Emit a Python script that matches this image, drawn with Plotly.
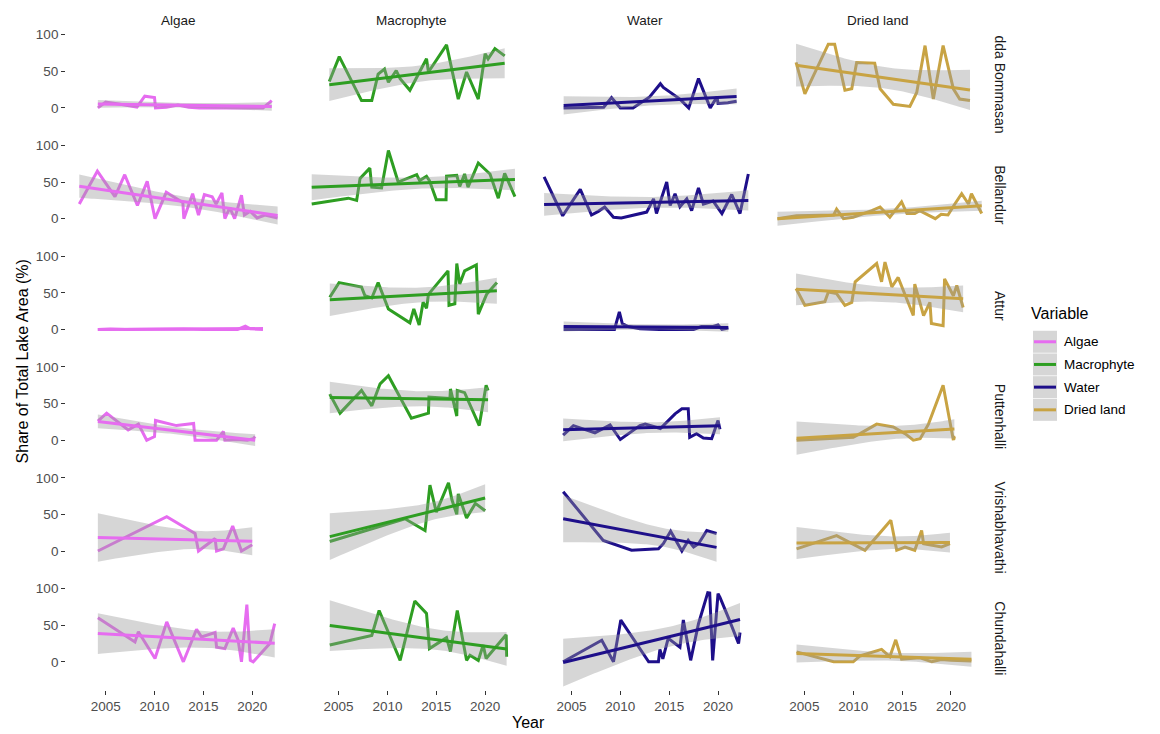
import numpy as np
import plotly.graph_objects as go

# ---- facet labels -------------------------------------------------------
lakes = ["dda Bommasan", "Bellandur", "Attur", "Puttenhalli", "Vrishabhavathi", "Chundahalli"]
variables = ["Algae", "Macrophyte", "Water", "Dried land"]
colors = ["#E66CF0", "#2E9E22", "#1E0F8A", "#C8A343"]
x_ticks = [2005, 2010, 2015, 2020]
y_ticks = [0, 50, 100]

# ---- Dodda Bommasandra ---------------------------------------------------
dodda_algae_year = [2004.2, 2005.0, 2006.5, 2008.2, 2009.0, 2010.0, 2010.1, 2011.2, 2012.4, 2013.5, 2014.6, 2016.0, 2018.0, 2019.5, 2021.1, 2022.0]
dodda_algae_pct = [0, 8, 5, 1, 16, 14, 0, 1, 4, 1, 0, 0, 0, 0, 0, 10]
dodda_macro_year = [2004.05, 2005.07, 2007.35, 2008.4, 2009.05, 2009.7, 2010.1, 2010.9, 2011.3, 2012.3, 2014.0, 2014.2, 2016.05, 2017.25, 2018.1, 2019.3, 2020.0, 2020.3, 2021.0, 2022.0]
dodda_macro_pct = [36, 70, 10, 10, 46, 53, 35, 51, 40, 24, 67, 49, 86, 12, 49, 12, 74, 67, 81, 71]
dodda_water_year = [2004.2, 2005.5, 2006.8, 2008.3, 2009.1, 2010.0, 2011.3, 2013.0, 2014.1, 2014.4, 2016.1, 2017.0, 2018.0, 2019.2, 2019.9, 2020.0, 2021.0, 2021.9]
dodda_water_pct = [0, 0, 1, 1, 14, 0, 0, 15, 33, 28, 12, 0, 40, 0, 15, 6, 7, 9]
dodda_dried_year = [2004.15, 2005.05, 2007.45, 2008.1, 2009.15, 2009.85, 2010.35, 2011.2, 2012.2, 2012.75, 2014.1, 2015.8, 2016.5, 2017.35, 2018.2, 2019.2, 2020.25, 2020.9, 2021.95]
dodda_dried_pct = [62, 19, 87, 87, 24, 26, 62, 62, 61, 26, 5, 2, 21, 85, 12, 85, 26, 12, 10]

# ---- Bellandur -----------------------------------------------------------
bell_algae_year = [2002.3, 2004.15, 2005.95, 2006.95, 2008.25, 2009.25, 2010.05, 2011.2, 2012.9, 2013.0, 2013.9, 2014.5, 2015.1, 2015.9, 2016.3, 2016.9, 2017.2, 2017.7, 2018.2, 2018.9, 2019.2, 2019.8, 2020.5, 2021.3, 2022.6]
bell_algae_pct = [20, 65, 30, 60, 18, 51, 0, 36, 22, 0, 34, 5, 33, 30, 20, 35, 0, 15, 0, 32, 5, 10, 1, 5, 1]
bell_macro_year = [2002.25, 2006.0, 2006.85, 2007.2, 2008.2, 2008.4, 2009.4, 2010.1, 2011.1, 2013.0, 2013.3, 2014.0, 2014.3, 2015.0, 2016.0, 2016.05, 2017.1, 2017.4, 2017.9, 2018.25, 2019.3, 2020.5, 2021.35, 2022.0, 2023.05]
bell_macro_pct = [20, 28, 25, 55, 69, 43, 42, 93, 50, 60, 52, 58, 52, 26, 26, 58, 59, 44, 61, 43, 76, 61, 28, 62, 30]
bell_water_year = [2002.2, 2003.1, 2004.1, 2005.9, 2007.05, 2007.75, 2008.4, 2009.3, 2010.1, 2012.7, 2013.4, 2013.7, 2014.75, 2015.1, 2015.6, 2016.1, 2016.8, 2017.3, 2018.0, 2018.5, 2019.5, 2020.4, 2021.4, 2022.25, 2023.1]
bell_water_pct = [57, 32, 4, 40, 5, 10, 16, 2, 1, 9, 27, 7, 50, 18, 34, 16, 27, 11, 42, 20, 24, 7, 33, 7, 61]
bell_dried_year = [2002.25, 2004.2, 2008.0, 2008.3, 2009.0, 2010.0, 2011.9, 2012.75, 2013.75, 2014.95, 2015.5, 2016.3, 2016.8, 2017.5, 2018.4, 2019.0, 2019.7, 2020.4, 2021.1, 2021.8, 2022.1, 2023.15]
bell_dried_pct = [0, 4, 5, 13, 0, 2, 11, 16, 2, 23, 7, 7, 11, 6, 0, 6, 5, 20, 34, 20, 34, 7]

# ---- Attur ---------------------------------------------------------------
attur_algae_year = [2004.2, 2005.5, 2007.0, 2009.0, 2011.0, 2013.0, 2015.0, 2017.0, 2018.5, 2019.3, 2019.8, 2021.1]
attur_algae_pct = [0, 0.5, 0, 0.5, 0, 0.5, 0, 0.5, 0, 4.5, 1, 0]
attur_macro_year = [2004.1, 2005.05, 2007.35, 2007.7, 2008.4, 2009.05, 2010.1, 2012.3, 2012.7, 2013.25, 2013.65, 2014.0, 2014.2, 2016.2, 2016.3, 2016.9, 2017.1, 2017.4, 2017.9, 2019.1, 2019.3, 2019.8, 2020.15, 2021.2]
attur_macro_pct = [44, 64, 58, 46, 43, 64, 28, 9, 28, 6, 37, 29, 48, 80, 33, 35, 90, 62, 80, 88, 21, 37, 48, 64]
attur_water_year = [2004.2, 2006.0, 2008.0, 2009.4, 2009.9, 2010.2, 2010.8, 2012.0, 2014.0, 2016.0, 2017.5, 2018.3, 2019.5, 2020.0, 2020.4, 2021.05]
attur_water_pct = [0, 0, 0, 0, 24, 8, 4, 1, 0, 0, 0, 4, 4, 6, 0, 2]
attur_dried_year = [2004.15, 2005.05, 2007.1, 2007.45, 2008.3, 2009.15, 2009.85, 2010.2, 2012.4, 2012.9, 2013.25, 2013.95, 2014.6, 2016.15, 2016.3, 2017.2, 2017.85, 2018.0, 2019.2, 2019.35, 2020.25, 2020.6, 2021.25]
attur_dried_pct = [56, 33, 38, 51, 49, 33, 37, 65, 90, 65, 92, 58, 71, 19, 62, 19, 37, 8, 5, 69, 46, 60, 30]

# ---- Puttenhalli ---------------------------------------------------------
putt_algae_year = [2004.2, 2005.1, 2007.3, 2008.35, 2009.2, 2010.0, 2010.1, 2012.25, 2014.0, 2014.15, 2016.35, 2017.05, 2017.2, 2018.5, 2019.5, 2020.1, 2020.3]
putt_algae_pct = [26, 37, 14, 22, 0, 5, 27, 20, 23, 0, 0, 12, 0, 1, 0, 2, 5]
putt_macro_year = [2004.1, 2005.15, 2007.35, 2008.4, 2009.25, 2010.1, 2012.45, 2014.2, 2014.25, 2016.4, 2016.45, 2017.1, 2017.15, 2017.9, 2019.4, 2020.1, 2020.3]
putt_macro_pct = [63, 37, 68, 47, 77, 88, 30, 37, 59, 57, 70, 33, 68, 65, 20, 75, 68]
putt_water_year = [2004.15, 2005.2, 2007.4, 2008.95, 2010.0, 2012.0, 2012.55, 2014.1, 2015.6, 2016.3, 2016.95, 2017.1, 2017.8, 2018.5, 2019.35, 2020.0, 2020.2]
putt_water_pct = [7, 20, 10, 21, 1, 20, 22, 16, 36, 43, 43, 4, 9, 3, 2, 27, 15]
putt_dried_year = [2004.2, 2007.0, 2010.0, 2010.7, 2012.4, 2014.1, 2015.0, 2015.3, 2015.6, 2016.15, 2016.85, 2017.3, 2017.7, 2019.2, 2020.25, 2020.28, 2020.3, 2020.35]
putt_dried_pct = [0, 2, 4, 9, 22, 18, 12, 9, 6, 0, 2, 12, 22, 75, 0, 6, 1, 5]

# ---- Vrishabhavathi ------------------------------------------------------
vrish_algae_year = [2004.2, 2011.25, 2013.2, 2014.15, 2014.5, 2016.2, 2016.35, 2017.05, 2018.0, 2018.9, 2020.0]
vrish_algae_pct = [0, 47, 31.5, 24, 0, 17, 0, 3, 34, 0, 8.5]
vrish_macro_year = [2004.1, 2008.0, 2011.8, 2013.85, 2014.35, 2015.0, 2016.25, 2016.6, 2017.1, 2017.25, 2018.1, 2019.0, 2020.0]
vrish_macro_pct = [13, 29, 44, 28, 90, 53, 93, 70, 50, 78, 45, 65, 55]
vrish_water_year = [2004.15, 2008.25, 2011.15, 2013.9, 2014.4, 2015.15, 2016.3, 2016.95, 2017.5, 2018.0, 2018.85, 2019.85]
vrish_water_pct = [81, 14.5, 1, 3, 10, 27, 0, 14.5, 5.5, 10, 28, 24]
vrish_dried_year = [2004.2, 2008.3, 2011.2, 2013.85, 2014.45, 2015.3, 2016.3, 2017.0, 2017.2, 2018.2, 2019.05, 2019.9]
vrish_dried_pct = [3, 21, 1, 42, 1, 5.5, 1, 28, 10, 8, 5.5, 10]

# ---- Chundahalli ---------------------------------------------------------
chun_algae_year = [2004.2, 2008.0, 2008.35, 2010.05, 2011.25, 2012.95, 2014.3, 2014.8, 2016.2, 2016.35, 2017.2, 2018.05, 2018.55, 2018.9, 2019.45, 2019.8, 2020.1, 2021.8, 2022.3]
chun_algae_pct = [60, 27, 41, 4.5, 54.5, 0, 44.5, 34, 40, 20, 18, 46, 30, 0, 78, 2, 0, 25, 52]
chun_macro_year = [2004.1, 2008.4, 2009.15, 2011.3, 2012.8, 2014.0, 2014.3, 2016.05, 2016.45, 2017.15, 2018.1, 2018.45, 2019.3, 2019.8, 2020.1, 2022.15, 2022.2]
chun_macro_pct = [23, 36, 70, 2, 83, 66, 18, 33, 14, 70, 2, 9, 2, 23, 4.5, 37, 7]
chun_water_year = [2004.15, 2006.1, 2008.1, 2009.3, 2010.05, 2012.9, 2013.9, 2014.05, 2014.35, 2014.9, 2016.1, 2016.45, 2017.2, 2018.0, 2018.95, 2019.15, 2019.45, 2020.0, 2020.2, 2021.1, 2022.1, 2022.25]
chun_water_pct = [0, 14.5, 29.5, 0, 57, 0, 0, 17, 4, 32, 20, 57, 2, 52, 94.5, 94, 2, 93, 88, 59, 25, 40]
chun_dried_year = [2004.2, 2008.0, 2010.0, 2010.7, 2012.9, 2013.75, 2014.35, 2014.95, 2016.85, 2018.05, 2019.0, 2020.0, 2022.1]
chun_dried_pct = [13.6, 0, 0, 8, 17, 7, 30, 3.6, 5.5, 0, 3, 2, 1]

series = [
    [(dodda_algae_year, dodda_algae_pct), (dodda_macro_year, dodda_macro_pct),
     (dodda_water_year, dodda_water_pct), (dodda_dried_year, dodda_dried_pct)],
    [(bell_algae_year, bell_algae_pct), (bell_macro_year, bell_macro_pct),
     (bell_water_year, bell_water_pct), (bell_dried_year, bell_dried_pct)],
    [(attur_algae_year, attur_algae_pct), (attur_macro_year, attur_macro_pct),
     (attur_water_year, attur_water_pct), (attur_dried_year, attur_dried_pct)],
    [(putt_algae_year, putt_algae_pct), (putt_macro_year, putt_macro_pct),
     (putt_water_year, putt_water_pct), (putt_dried_year, putt_dried_pct)],
    [(vrish_algae_year, vrish_algae_pct), (vrish_macro_year, vrish_macro_pct),
     (vrish_water_year, vrish_water_pct), (vrish_dried_year, vrish_dried_pct)],
    [(chun_algae_year, chun_algae_pct), (chun_macro_year, chun_macro_pct),
     (chun_water_year, chun_water_pct), (chun_dried_year, chun_dried_pct)],
]


def t975(df):
    """Approximate 97.5% Student-t quantile (Cornish-Fisher expansion)."""
    z = 1.959964
    g1 = (z**3 + z) / 4
    g2 = (5 * z**5 + 16 * z**3 + 3 * z) / 96
    g3 = (3 * z**7 + 19 * z**5 + 17 * z**3 - 15 * z) / 384
    g4 = (79 * z**9 + 776 * z**7 + 1482 * z**5 - 1920 * z**3 - 945 * z) / 92160
    return z + g1 / df + g2 / df**2 + g3 / df**3 + g4 / df**4


def lm_band(x, y, n_out=80):
    """Linear fit with 95% confidence band, evaluated across the data range."""
    x = np.asarray(x, float)
    y = np.asarray(y, float)
    n = len(x)
    xm, ym = x.mean(), y.mean()
    sxx = ((x - xm) ** 2).sum()
    b = ((x - xm) * (y - ym)).sum() / sxx
    a = ym - b * xm
    resid = y - (a + b * x)
    s = np.sqrt((resid ** 2).sum() / (n - 2))
    xs = np.linspace(x.min(), x.max(), n_out)
    fit = a + b * xs
    se = s * np.sqrt(1.0 / n + (xs - xm) ** 2 / sxx)
    t = t975(n - 2)
    return xs, fit, fit - t * se, fit + t * se


# ---- panel geometry (pixels) ---------------------------------------------
W, H = 1160, 734
X_RANGE = [2000.95, 2024.05]
Y_RANGE = [-38.4, 102.4]
col_left0, col_pitch, col_w = 66.1, 232.9, 225.7
row_top0, row_pitch, row_h = 31.9, 110.86, 103.2

FONT = "Arial, 'Liberation Sans', sans-serif"
RIBBON = "rgba(153,153,153,0.4)"
LW = 3.0
SMALL = 13.5
TITLE = 16


def px(xp):
    return xp / W


def py(yp):
    # vertical pixel -> paper fraction (small scale adjustment for the page)
    y_adj = (yp - 5.0) / 0.9925
    return 1 - y_adj / H


fig = go.Figure()
layout = {}

for r in range(len(lakes)):
    for c in range(len(variables)):
        k = r * len(variables) + c + 1
        suffix = "" if k == 1 else str(k)
        xa, ya = "x" + suffix, "y" + suffix
        yrs, vals = series[r][c]
        col = colors[c]

        fig.add_trace(go.Scatter(x=yrs, y=vals, mode="lines", xaxis=xa, yaxis=ya,
                                 line=dict(color=col, width=LW), showlegend=False,
                                 hoverinfo="skip"))
        xs, fit, lo, hi = lm_band(yrs, vals)
        fig.add_trace(go.Scatter(x=np.concatenate([xs, xs[::-1]]),
                                 y=np.concatenate([hi, lo[::-1]]),
                                 mode="lines", fill="toself", fillcolor=RIBBON,
                                 line=dict(width=0), xaxis=xa, yaxis=ya,
                                 showlegend=False, hoverinfo="skip"))
        fig.add_trace(go.Scatter(x=xs, y=fit, mode="lines", xaxis=xa, yaxis=ya,
                                 line=dict(color=col, width=LW), showlegend=False,
                                 hoverinfo="skip"))

        left = col_left0 + c * col_pitch
        top = row_top0 + r * row_pitch
        bottom_row = r == len(lakes) - 1
        first_col = c == 0
        layout["xaxis" + suffix] = dict(
            domain=[px(left), px(left + col_w)], range=X_RANGE, anchor=ya,
            showgrid=False, zeroline=False, showline=False,
            tickmode="array", tickvals=x_ticks,
            ticks="outside" if bottom_row else "", ticklen=4, tickwidth=1,
            tickcolor="#333333", showticklabels=bottom_row,
            tickfont=dict(family=FONT, size=SMALL, color="#4D4D4D"),
        )
        layout["yaxis" + suffix] = dict(
            domain=[py(top + row_h), py(top)], range=Y_RANGE, anchor=xa,
            showgrid=False, zeroline=False, showline=False,
            tickmode="array", tickvals=y_ticks,
            ticks="outside" if first_col else "", ticklen=4, tickwidth=1,
            tickcolor="#333333", showticklabels=first_col,
            tickfont=dict(family=FONT, size=SMALL, color="#4D4D4D"),
        )


def label(text, xp, yp, size, color="#000000", xanchor="center", angle=0):
    return dict(text=text, x=px(xp), y=py(yp), xref="paper", yref="paper",
                xanchor=xanchor, yanchor="middle", showarrow=False, textangle=angle,
                font=dict(family=FONT, size=size, color=color))


annotations = []
for c, var in enumerate(variables):
    annotations.append(label(var, col_left0 + c * col_pitch + col_w / 2, 20, SMALL, "#1A1A1A"))
for r, lake in enumerate(lakes):
    annotations.append(label(lake, 1000, row_top0 + r * row_pitch + row_h / 2, 14,
                             "#1A1A1A", angle=90))
annotations.append(label("Share of Total Lake Area (%)", 22,
                         row_top0 + (5 * row_pitch + row_h) / 2, TITLE, angle=-90))
annotations.append(label("Year", 528, 722, TITLE))

# legend drawn as keys + labels
annotations.append(label("Variable", 1029, 313, TITLE, xanchor="left"))
shapes = []
key_x0, key_x1, key_h, key_pitch, key_y0 = 1033, 1057, 23, 22.7, 341
for i, var in enumerate(variables):
    yc = key_y0 + i * key_pitch
    shapes.append(dict(type="rect", xref="paper", yref="paper",
                       x0=px(key_x0), x1=px(key_x1), y0=py(yc - key_h / 2 + 0.5),
                       y1=py(yc + key_h / 2 - 0.5), fillcolor=RIBBON, line=dict(width=0)))
    shapes.append(dict(type="line", xref="paper", yref="paper",
                       x0=px(key_x0 + 1), x1=px(key_x1 - 1), y0=py(yc), y1=py(yc),
                       line=dict(color=colors[i], width=LW)))
    annotations.append(label(var, 1062, yc, SMALL, xanchor="left"))

fig.update_layout(
    width=W, height=H, margin=dict(l=0, r=0, t=0, b=0),
    paper_bgcolor="white", plot_bgcolor="white",
    showlegend=False, hovermode=False,
    annotations=annotations, shapes=shapes,
    **layout,
)

fig.write_html("out.html")
